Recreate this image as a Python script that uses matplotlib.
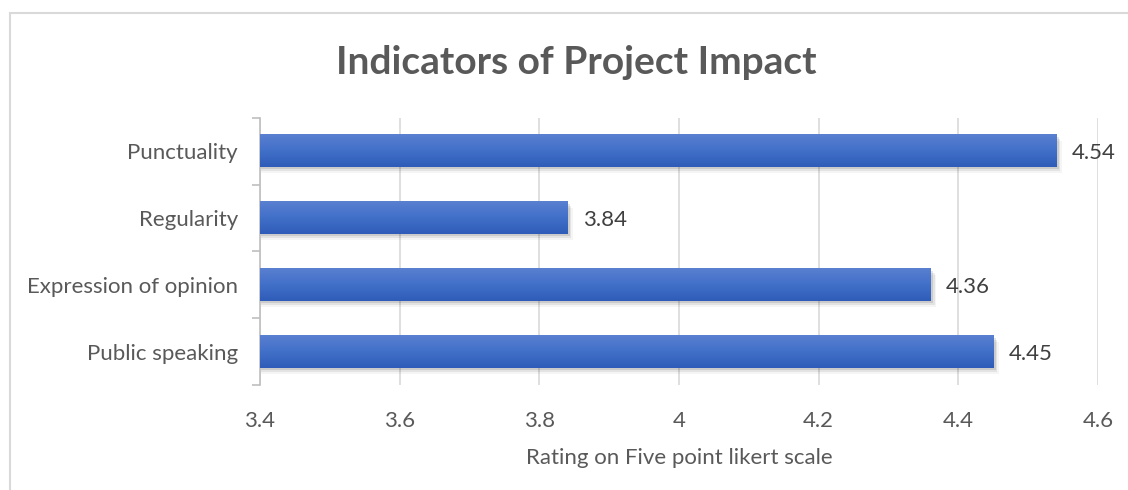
import matplotlib
matplotlib.use("Agg")
import matplotlib.pyplot as plt
import numpy as np
from matplotlib.colors import LinearSegmentedColormap
from matplotlib.patches import Rectangle

categories = ["Public speaking", "Expression of opinion", "Regularity", "Punctuality"]
values = [4.45, 4.36, 3.84, 4.54]
x_ticks = [3.4, 3.6, 3.8, 4.0, 4.2, 4.4, 4.6]
x_tick_labels = ["3.4", "3.6", "3.8", "4", "4.2", "4.4", "4.6"]

plt.rcParams["font.family"] = ["Lato", "DejaVu Sans"]
text_col = "#595959"

fig = plt.figure(figsize=(11.28, 4.9), dpi=100)
ax = fig.add_axes([0.2305, 0.2143, 0.7429, 0.5449])

# outer chart border
fig.patches.append(Rectangle((9.5 / 1128, -0.01), 1.2, 1 - 13.5 / 490 + 0.01,
                             transform=fig.transFigure, fill=False,
                             edgecolor="#d9d9d9", linewidth=1.5))

y = np.arange(len(categories))
bars = ax.barh(y, [v - 3.4 for v in values], left=3.4, height=0.48,
               color="#4472c4", zorder=3)

# gradient fill + soft shadow
cmap = LinearSegmentedColormap.from_list("g", ["#2e5cb8", "#4170c9", "#5a80d0"])
grad = np.linspace(0, 1, 100).reshape(-1, 1)
for b in bars:
    x0, y0, w, h = b.get_x(), b.get_y(), b.get_width(), b.get_height()
    for i, a in enumerate([0.10, 0.07, 0.04]):
        ax.add_patch(Rectangle((x0 + 0.002, y0 - 0.03 * (i + 1)), w + 0.002 * (i + 1), h,
                               facecolor="black", alpha=a, linewidth=0, zorder=2))
    ax.imshow(grad, extent=(x0, x0 + w, y0, y0 + h), aspect="auto", cmap=cmap,
              origin="lower", zorder=4)

for v, yy in zip(values, y):
    ax.text(v + 0.022, yy - 0.03, "%.2f" % v, va="center", ha="left", fontsize=16,
            color="#404040", zorder=5)

ax.set_xlim(3.4, 4.6)
ax.set_ylim(-0.5, len(categories) - 0.5)
ax.set_xticks(x_ticks)
ax.set_xticklabels(x_tick_labels)
ax.set_yticks(y)
ax.set_yticklabels(categories)
ax.set_yticks(np.arange(-0.5, len(categories)), minor=True)
ax.tick_params(axis="y", which="major", length=0, pad=16, labelsize=16, labelcolor=text_col)
ax.tick_params(axis="y", which="minor", length=6, color="#bfbfbf", width=1.2)
ax.tick_params(axis="x", length=0, pad=19, labelsize=16, labelcolor=text_col)
ax.grid(axis="x", color="#d9d9d9", linewidth=1.2, zorder=0)
for s in ["top", "right", "bottom"]:
    ax.spines[s].set_visible(False)
ax.spines["left"].set_color("#bfbfbf")
ax.spines["left"].set_linewidth(1.2)

ax.set_xlabel("Rating on Five point likert scale", fontsize=16, color=text_col, labelpad=12)
fig.text(0.511, 0.873, "Indicators of Project Impact", ha="center", va="center",
         fontsize=28, fontweight="bold", color=text_col)

fig.savefig("out.png", dpi=100)
